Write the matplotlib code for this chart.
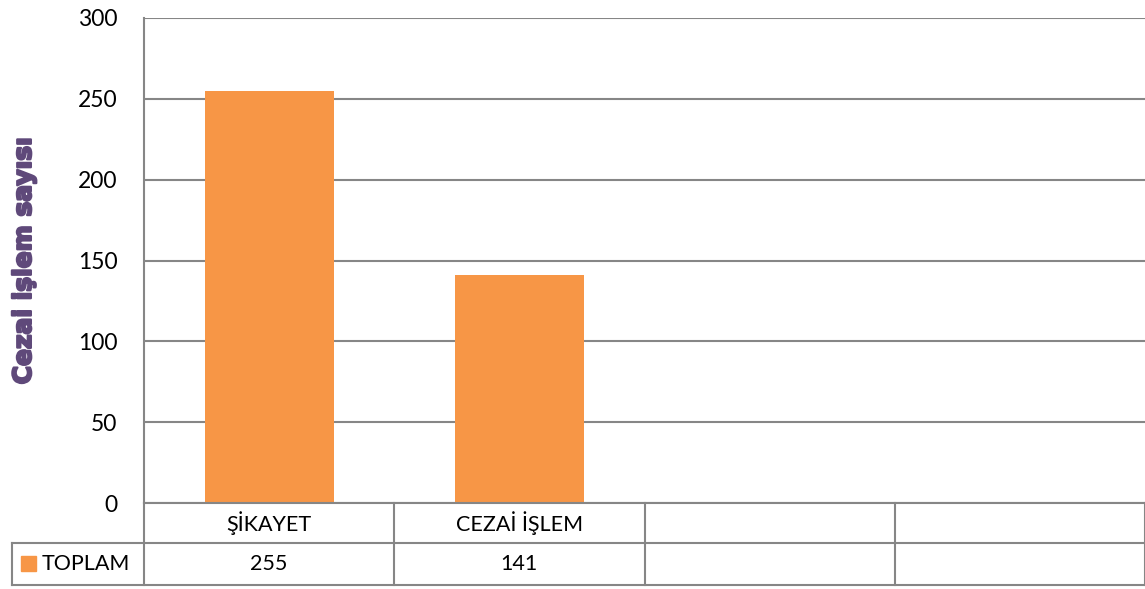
import matplotlib.pyplot as plt
import matplotlib.transforms as mtransforms
import matplotlib.patheffects as pe
from matplotlib.lines import Line2D
from matplotlib.patches import Rectangle

categories = ['ŞİKAYET', 'CEZAİ İŞLEM', '', '']
series_name = 'TOPLAM'
values = [255, 141, None, None]
yticks = [0, 50, 100, 150, 200, 250, 300]

bar_color = '#F79646'
grid_color = '#868686'
label_color = '#5F497A'
font = ['Lato', 'DejaVu Sans']

fig = plt.figure(figsize=(11.45, 5.89), dpi=100)
ax = fig.add_axes([144 / 1145, 1 - 503 / 589, 1 - 144 / 1145, 485 / 589])

xs = [i for i, v in enumerate(values) if v is not None]
hs = [v for v in values if v is not None]
ax.bar(xs, hs, width=0.515, color=bar_color, zorder=3)

ax.set_xlim(-0.5, len(categories) - 0.5)
ax.set_ylim(0, 300)
ax.set_yticks(yticks)
ax.set_yticklabels([str(t) for t in yticks], family=font, fontsize=16.5)
ax.tick_params(axis='y', length=0, pad=19)
ax.set_xticks([])
ax.yaxis.grid(True, color=grid_color, linewidth=1.5, zorder=0)
for s in ['top', 'right', 'bottom']:
    ax.spines[s].set_visible(False)
ax.spines['left'].set_color(grid_color)
ax.spines['left'].set_linewidth(1.5)

# heavy axis title, thickened with a stroke of the same colour
ylab = ax.set_ylabel('Cezai işlem sayısı', fontsize=18, fontweight='heavy',
                     color=label_color, family=['DejaVu Sans'])
ylab.set_path_effects([pe.withStroke(linewidth=1.6, foreground=label_color)])
ax.yaxis.set_label_coords(-0.108, 0.5)

# data table under the plot
tr = mtransforms.blended_transform_factory(ax.transData, ax.transAxes)
row1 = -40 / 485
row2 = -82 / 485
x0 = -0.5
x1 = len(categories) - 0.5
hdr = -0.5 - 132 / 250.25
lw = 1.5

def tline(xa, ya):
    ax.add_line(Line2D(xa, ya, transform=tr, color=grid_color, lw=lw,
                       clip_on=False, zorder=4))

tline([x0, x1], [0, 0])
tline([hdr, x1], [row1, row1])
tline([hdr, x1], [row2, row2])
tline([hdr, hdr], [row1, row2])
for b in range(len(categories) + 1):
    tline([b - 0.5, b - 0.5], [0, row2])

for i, c in enumerate(categories):
    ax.text(i, row1 / 2, c, transform=tr, ha='center', va='center',
            family=font, fontsize=15.5)
    if values[i] is not None:
        ax.text(i, (row1 + row2) / 2, str(values[i]), transform=tr,
                ha='center', va='center', family=font, fontsize=15.5)

# legend key and series name in row header
ax.add_patch(Rectangle((hdr + 9 / 250.25, row1 - 13 / 485), 15 / 250.25, -15 / 485,
                       transform=tr, color=bar_color, clip_on=False))
ax.text(hdr + 30 / 250.25, (row1 + row2) / 2, series_name, transform=tr,
        ha='left', va='center', family=font, fontsize=15.5)

fig.savefig('out.png', dpi=100)
